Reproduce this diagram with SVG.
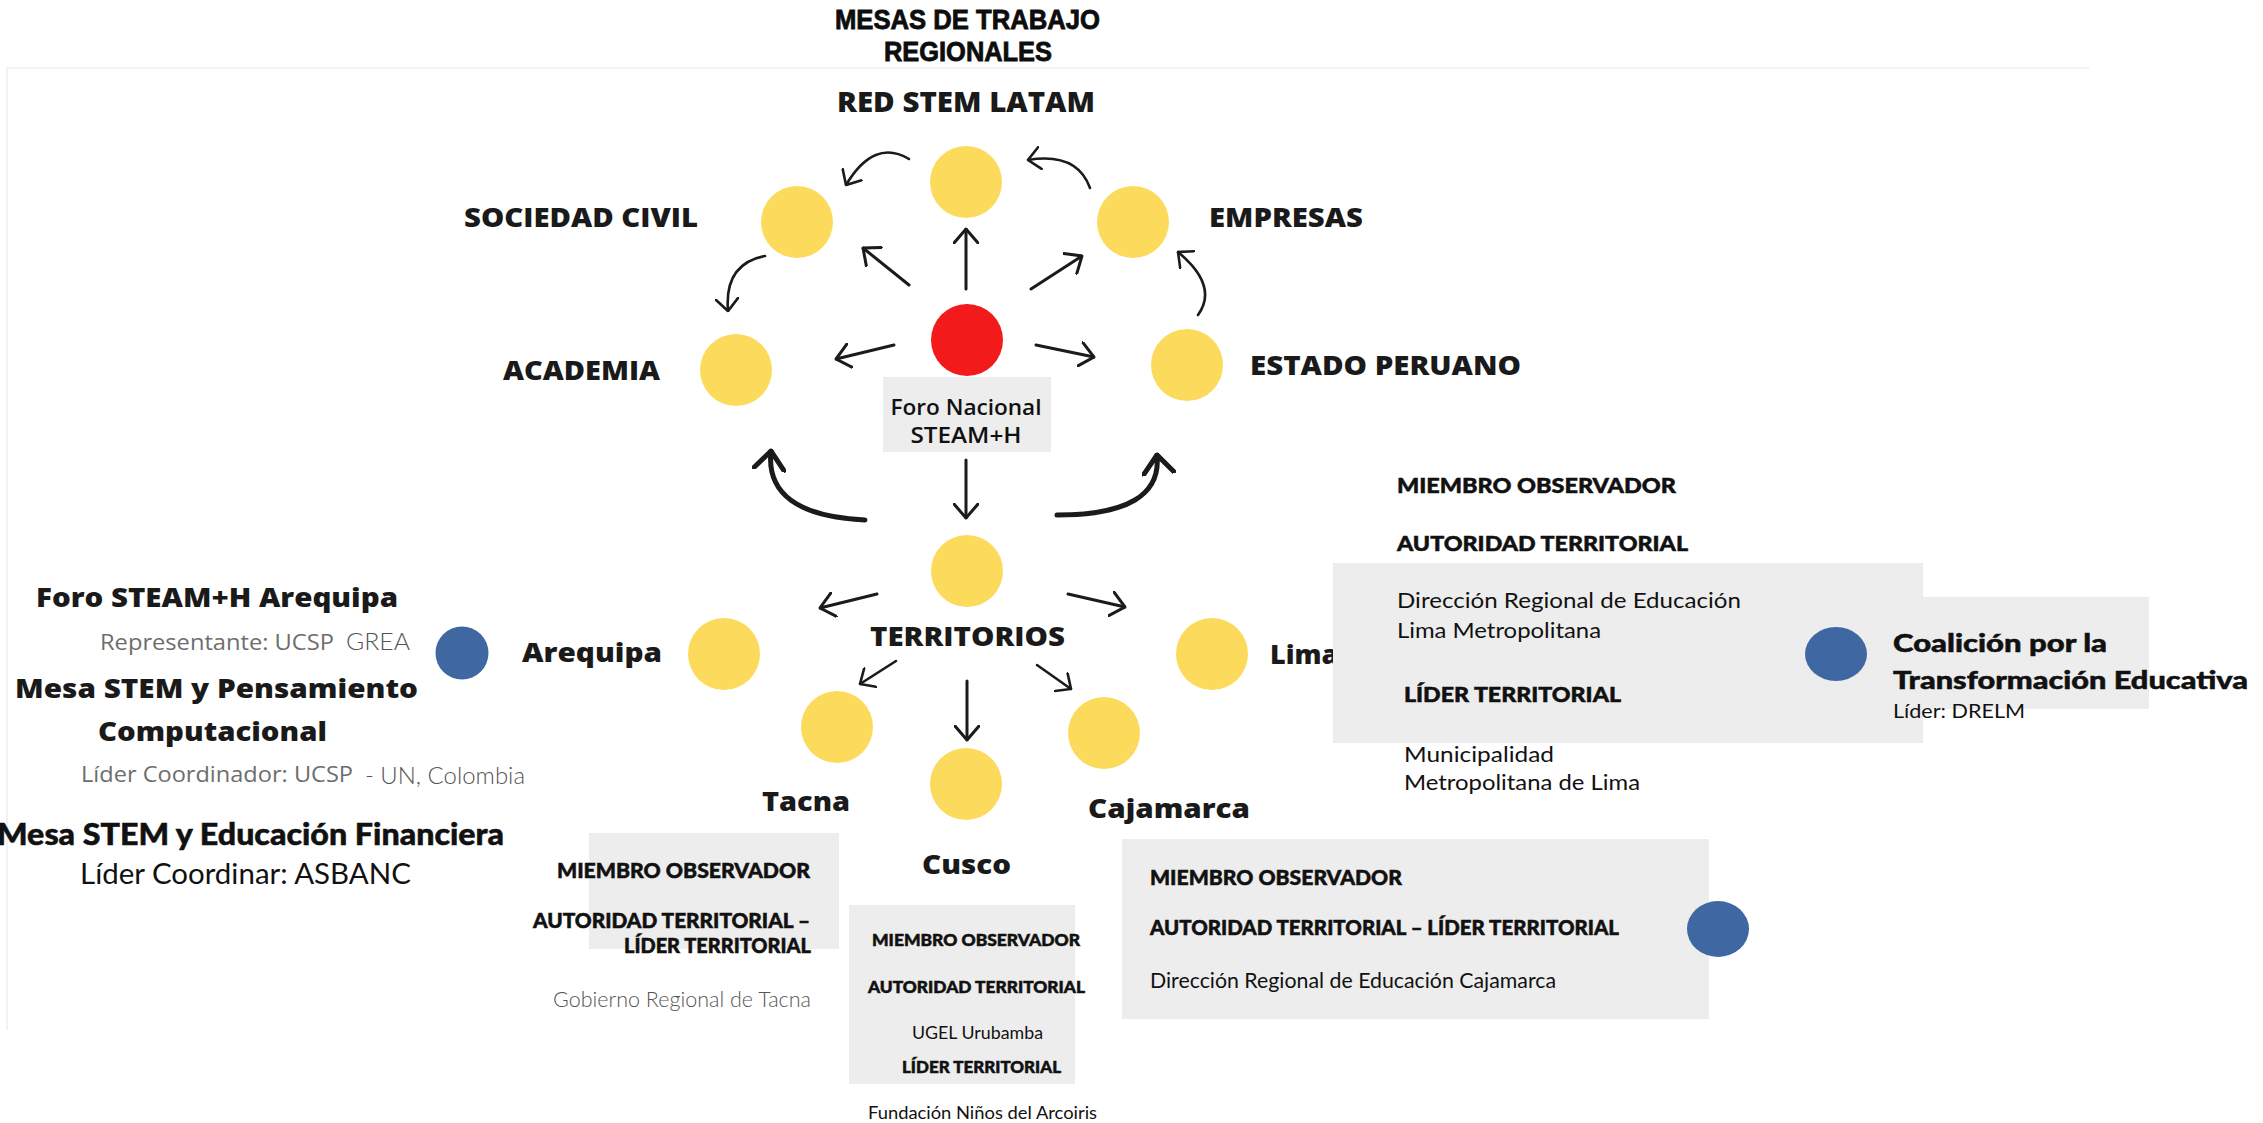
<svg xmlns="http://www.w3.org/2000/svg" width="2263" height="1123" viewBox="0 0 2263 1123">
<defs>
<style>
.lbl{font-family:"Open Sans","Noto Sans","Liberation Sans",sans-serif;font-weight:800;fill:#1a1a1a}
.ttl{font-family:"Liberation Sans",Arial,sans-serif;font-weight:700;fill:#0d0d0d;stroke:#0d0d0d;stroke-width:0.8}
.geo{font-family:Lato,"Liberation Sans",sans-serif;font-weight:900;fill:#111;stroke:#111;stroke-width:0.5}
.reg{font-family:Lato,"Liberation Sans",sans-serif;font-weight:400;fill:#111}
.lt{font-family:Lato,"Liberation Sans",sans-serif;font-weight:300;fill:#555}
.gr{font-family:"Open Sans","Liberation Sans",sans-serif;font-weight:500;fill:#6d6d6d}
.yel{fill:#FCDB5C}
.blu{fill:#3F67A2}
.box{fill:#EDEDED}
.ar{fill:none;stroke:#1b1b1b;stroke-width:3;stroke-linecap:round}
.arc{fill:none;stroke:#1b1b1b;stroke-width:2.6;stroke-linecap:round}
.arb{fill:none;stroke:#1b1b1b;stroke-width:5;stroke-linecap:round}
</style>
<marker id="ah" viewBox="0 0 16 26" refX="15" refY="13" markerWidth="16" markerHeight="26" markerUnits="userSpaceOnUse" orient="auto">
<path d="M1,1 L15,13 L1,25" fill="none" stroke="#1b1b1b" stroke-width="3" stroke-linecap="round"/>
</marker>
<marker id="ahs" viewBox="0 0 14 24" refX="13" refY="12" markerWidth="14" markerHeight="24" markerUnits="userSpaceOnUse" orient="auto">
<path d="M1,1 L13,12 L1,23" fill="none" stroke="#1b1b1b" stroke-width="2.6" stroke-linecap="round"/>
</marker>
<marker id="ahb" viewBox="0 0 22 34" refX="20" refY="17" markerWidth="22" markerHeight="34" markerUnits="userSpaceOnUse" orient="auto">
<path d="M2,2 L20,17 L2,32" fill="none" stroke="#1b1b1b" stroke-width="5" stroke-linecap="round"/>
</marker>
</defs>
<rect width="2263" height="1123" fill="#ffffff"/>
<g id="frame" fill="none" stroke="#f2f2f2" stroke-width="2">
<path d="M7,1030 L7,68 L2089,68"/>
</g>

<g id="title">
<text class="ttl" x="835" y="29" font-size="27" textLength="265" lengthAdjust="spacingAndGlyphs">MESAS DE TRABAJO</text>
<text class="ttl" x="884" y="61" font-size="27" textLength="168" lengthAdjust="spacingAndGlyphs">REGIONALES</text>
</g>

<g id="connectors">
<line class="ar" x1="966" y1="289" x2="966" y2="229" marker-end="url(#ah)"/>
<line class="ar" x1="909" y1="285" x2="863" y2="248" marker-end="url(#ah)"/>
<line class="ar" x1="1031" y1="289" x2="1082" y2="256" marker-end="url(#ah)"/>
<line class="ar" x1="894" y1="345" x2="836" y2="359" marker-end="url(#ah)"/>
<line class="ar" x1="1036" y1="345" x2="1094" y2="357" marker-end="url(#ah)"/>
<line class="ar" x1="966" y1="460" x2="966" y2="518" marker-end="url(#ah)"/>
<line class="ar" x1="877" y1="594" x2="820" y2="608" marker-end="url(#ah)"/>
<line class="ar" x1="1068" y1="594" x2="1125" y2="607" marker-end="url(#ah)"/>
<line class="arc" x1="896" y1="661" x2="860" y2="684" marker-end="url(#ahs)"/>
<line class="arc" x1="1037" y1="665" x2="1071" y2="689" marker-end="url(#ahs)"/>
<line class="ar" x1="967" y1="681" x2="967" y2="740" marker-end="url(#ah)"/>
<path class="arc" d="M909,159 Q874,138 846,185" marker-end="url(#ahs)"/>
<path class="arc" d="M1090,188 Q1077,152 1028,160" marker-end="url(#ahs)"/>
<path class="arc" d="M765,256 Q724,264 728,311" marker-end="url(#ahs)"/>
<path class="arc" d="M1198,315 Q1219,286 1178,252" marker-end="url(#ahs)"/>
<path class="arb" d="M865,520 Q764,515 771,451" marker-end="url(#ahb)"/>
<path class="arb" d="M1057,515 Q1163,515 1157,455" marker-end="url(#ahb)"/>
</g>

<g id="red-stem-latam">
<circle class="yel" cx="966" cy="182" r="36"/>
<text class="lbl" x="837" y="112" font-size="29" textLength="258" lengthAdjust="spacingAndGlyphs">RED STEM LATAM</text>
</g>
<g id="sociedad-civil">
<circle class="yel" cx="797" cy="222" r="36"/>
<text class="lbl" x="464" y="227" font-size="26" textLength="234" lengthAdjust="spacingAndGlyphs">SOCIEDAD CIVIL</text>
</g>
<g id="empresas">
<circle class="yel" cx="1133" cy="222" r="36"/>
<text class="lbl" x="1209" y="227" font-size="26" textLength="154" lengthAdjust="spacingAndGlyphs">EMPRESAS</text>
</g>
<g id="academia">
<circle class="yel" cx="736" cy="370" r="36"/>
<text class="lbl" x="503" y="380" font-size="26" textLength="157" lengthAdjust="spacingAndGlyphs">ACADEMIA</text>
</g>
<g id="estado-peruano">
<circle class="yel" cx="1187" cy="365" r="36"/>
<text class="lbl" x="1250" y="375" font-size="26" textLength="271" lengthAdjust="spacingAndGlyphs">ESTADO PERUANO</text>
</g>
<g id="foro-nacional">
<circle cx="967" cy="340" r="36" fill="#F21A1A"/>
<rect class="box" x="883" y="377" width="168" height="75"/>
<text x="966" y="415" font-size="22" font-family="'Open Sans','Liberation Sans',sans-serif" font-weight="600" fill="#111" text-anchor="middle" textLength="151" lengthAdjust="spacingAndGlyphs">Foro Nacional</text>
<text x="966" y="443" font-size="22" font-family="'Open Sans','Liberation Sans',sans-serif" font-weight="600" fill="#111" text-anchor="middle" textLength="111" lengthAdjust="spacingAndGlyphs">STEAM+H</text>
</g>
<g id="territorios">
<circle class="yel" cx="967" cy="571" r="36"/>
<text class="lbl" x="870" y="646" font-size="26" textLength="195" lengthAdjust="spacingAndGlyphs">TERRITORIOS</text>
</g>

<g id="arequipa">
<circle class="yel" cx="724" cy="654" r="36"/>
<text class="lbl" x="522" y="662" font-size="27" textLength="140" lengthAdjust="spacingAndGlyphs">Arequipa</text>
<circle class="blu" cx="462" cy="653" r="26.5"/>
<text class="lbl" x="36" y="607" font-size="27" textLength="362" lengthAdjust="spacingAndGlyphs">Foro STEAM+H Arequipa</text>
<text class="gr" x="100" y="650" font-size="22" textLength="234" lengthAdjust="spacingAndGlyphs">Representante: UCSP</text>
<text class="lt" x="346" y="650" font-size="23" textLength="64" lengthAdjust="spacingAndGlyphs">GREA</text>
<text class="lbl" x="15" y="698" font-size="27" textLength="403" lengthAdjust="spacingAndGlyphs">Mesa STEM y Pensamiento</text>
<text class="lbl" x="98" y="741" font-size="27" textLength="229" lengthAdjust="spacingAndGlyphs">Computacional</text>
<text class="gr" x="81" y="782" font-size="22" textLength="272" lengthAdjust="spacingAndGlyphs">Líder Coordinador: UCSP</text>
<text class="lt" x="365" y="784" font-size="23" textLength="160" lengthAdjust="spacingAndGlyphs">- UN, Colombia</text>
<text class="geo" x="-3" y="845" font-size="30" textLength="507" lengthAdjust="spacingAndGlyphs">Mesa STEM y Educación Financiera</text>
<text class="reg" x="80" y="884" font-size="29" textLength="331" lengthAdjust="spacingAndGlyphs">Líder Coordinar: ASBANC</text>
</g>

<g id="tacna">
<circle class="yel" cx="837" cy="727" r="36"/>
<text class="lbl" x="762" y="811" font-size="27" textLength="88" lengthAdjust="spacingAndGlyphs">Tacna</text>
<rect class="box" x="589" y="833" width="250" height="116"/>
<text class="geo" x="557" y="878" font-size="20" textLength="253" lengthAdjust="spacingAndGlyphs">MIEMBRO OBSERVADOR</text>
<text class="geo" x="533" y="928" font-size="20" textLength="277" lengthAdjust="spacingAndGlyphs">AUTORIDAD TERRITORIAL –</text>
<text class="geo" x="624" y="953" font-size="20" textLength="187" lengthAdjust="spacingAndGlyphs">LÍDER TERRITORIAL</text>
<text class="lt" x="553" y="1007" font-size="22" textLength="258" lengthAdjust="spacingAndGlyphs">Gobierno Regional de Tacna</text>
</g>

<g id="cusco">
<circle class="yel" cx="966" cy="784" r="36"/>
<text class="lbl" x="922" y="874" font-size="27" textLength="89" lengthAdjust="spacingAndGlyphs">Cusco</text>
<rect class="box" x="849" y="905" width="226" height="179"/>
<text class="geo" x="872" y="946" font-size="16" textLength="208" lengthAdjust="spacingAndGlyphs">MIEMBRO OBSERVADOR</text>
<text class="geo" x="868" y="993" font-size="16" textLength="217" lengthAdjust="spacingAndGlyphs">AUTORIDAD TERRITORIAL</text>
<text class="reg" x="912" y="1039" font-size="17" textLength="131" lengthAdjust="spacingAndGlyphs">UGEL Urubamba</text>
<text class="geo" x="902" y="1073" font-size="16" textLength="159" lengthAdjust="spacingAndGlyphs">LÍDER TERRITORIAL</text>
<text class="reg" x="868" y="1119" font-size="17" textLength="229" lengthAdjust="spacingAndGlyphs">Fundación Niños del Arcoiris</text>
</g>

<g id="cajamarca">
<circle class="yel" cx="1104" cy="733" r="36"/>
<text class="lbl" x="1088" y="818" font-size="27" textLength="162" lengthAdjust="spacingAndGlyphs">Cajamarca</text>
<rect class="box" x="1122" y="839" width="587" height="180"/>
<text class="geo" x="1150" y="885" font-size="20" textLength="252" lengthAdjust="spacingAndGlyphs">MIEMBRO OBSERVADOR</text>
<text class="geo" x="1150" y="935" font-size="20" textLength="469" lengthAdjust="spacingAndGlyphs">AUTORIDAD TERRITORIAL – LÍDER TERRITORIAL</text>
<text class="reg" x="1150" y="988" font-size="21" textLength="406" lengthAdjust="spacingAndGlyphs">Dirección Regional de Educación Cajamarca</text>
<ellipse class="blu" cx="1718" cy="929" rx="31" ry="28"/>
</g>

<g id="lima">
<circle class="yel" cx="1212" cy="654" r="36"/>
<text class="lbl" x="1270" y="664" font-size="27">Lima</text>
<text class="geo" x="1397" y="493" font-size="21" textLength="279" lengthAdjust="spacingAndGlyphs">MIEMBRO OBSERVADOR</text>
<text class="geo" x="1397" y="551" font-size="21" textLength="291" lengthAdjust="spacingAndGlyphs">AUTORIDAD TERRITORIAL</text>
<rect class="box" x="1333" y="563" width="590" height="180"/>
<text class="reg" x="1397" y="608" font-size="22" textLength="344" lengthAdjust="spacingAndGlyphs">Dirección Regional de Educación</text>
<text class="reg" x="1397" y="638" font-size="22" textLength="204" lengthAdjust="spacingAndGlyphs">Lima Metropolitana</text>
<text class="geo" x="1404" y="702" font-size="21" textLength="217" lengthAdjust="spacingAndGlyphs">LÍDER TERRITORIAL</text>
<text class="reg" x="1404" y="762" font-size="22" textLength="150" lengthAdjust="spacingAndGlyphs">Municipalidad</text>
<text class="reg" x="1404" y="790" font-size="22" textLength="236" lengthAdjust="spacingAndGlyphs">Metropolitana de Lima</text>
</g>

<g id="coalicion">
<rect class="box" x="1923" y="597" width="226" height="112"/>
<ellipse class="blu" cx="1836" cy="654" rx="31" ry="27"/>
<text class="geo" x="1893" y="652" font-size="25" textLength="214" lengthAdjust="spacingAndGlyphs">Coalición por la</text>
<text class="geo" x="1893" y="689" font-size="25" textLength="355" lengthAdjust="spacingAndGlyphs">Transformación Educativa</text>
<text class="reg" x="1893" y="718" font-size="20" textLength="132" lengthAdjust="spacingAndGlyphs">Líder: DRELM</text>
</g>
</svg>
